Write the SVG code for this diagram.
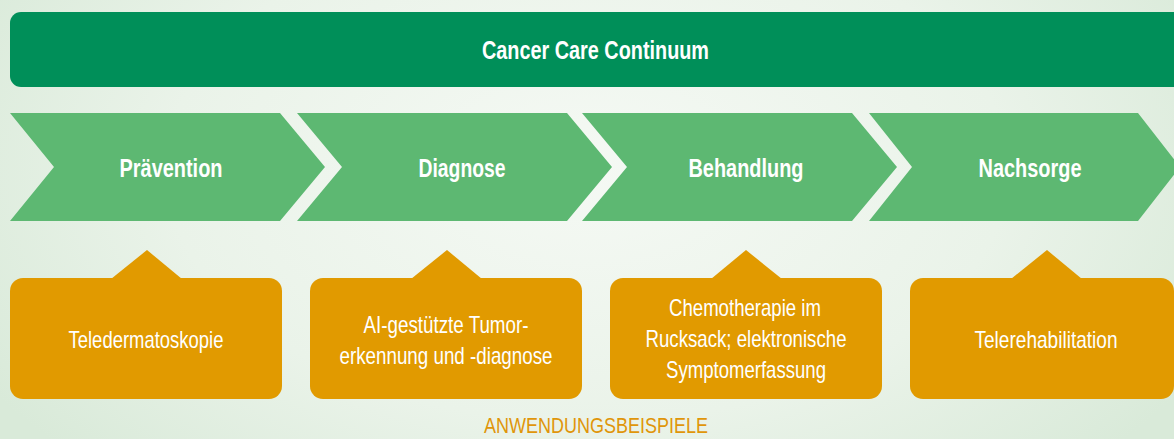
<svg xmlns="http://www.w3.org/2000/svg" width="1174" height="439" viewBox="0 0 1174 439">
  <defs>
    <radialGradient id="bg" cx="587" cy="170" r="700" gradientUnits="userSpaceOnUse" gradientTransform="translate(587 170) scale(1 0.6) translate(-587 -170)">
      <stop offset="0" stop-color="#f5f9f4"/>
      <stop offset="0.6" stop-color="#eaf3e9"/>
      <stop offset="1" stop-color="#d9ead9"/>
    </radialGradient>
    <style>
      .t { font-family: "Liberation Sans", Arial, sans-serif; text-anchor: middle; }
      .hdr { font-size: 25px; font-weight: bold; fill: #ffffff; }
      .box { fill: #e19a00; }
      .chev { fill: #5db872; }
      .btxt { font-size: 24px; fill: #ffffff; }
      .lbl { font-size: 22px; fill: #e0960a; }
    </style>
  </defs>
  <rect x="0" y="0" width="1174" height="439" fill="url(#bg)"/>

  <g id="banner">
    <rect x="10" y="12" width="1174" height="75" rx="11" fill="#008f59"/>
    <text class="t hdr" x="595.5" y="59" textLength="227" lengthAdjust="spacingAndGlyphs">Cancer Care Continuum</text>
  </g>

  <g id="praevention">
    <polygon class="chev" points="10,113 280,113 325,167 280,221 10,221 54,167"/>
    <text class="t hdr" x="171" y="177" textLength="103" lengthAdjust="spacingAndGlyphs">Prävention</text>
  </g>
  <g id="diagnose">
    <polygon class="chev" points="297,113 567,113 612,167 567,221 297,221 342,167"/>
    <text class="t hdr" x="462" y="177" textLength="87" lengthAdjust="spacingAndGlyphs">Diagnose</text>
  </g>
  <g id="behandlung">
    <polygon class="chev" points="582,113 852,113 897,167 852,221 582,221 627,167"/>
    <text class="t hdr" x="746" y="177" textLength="115" lengthAdjust="spacingAndGlyphs">Behandlung</text>
  </g>
  <g id="nachsorge">
    <polygon class="chev" points="869,113 1138,113 1180,167 1138,221 869,221 912,167"/>
    <text class="t hdr" x="1030" y="177" textLength="103" lengthAdjust="spacingAndGlyphs">Nachsorge</text>
  </g>

  <g id="connectors"></g>

  <g id="bsp-teledermatoskopie">
    <polygon class="box" points="111,279 147,250 182,279"/>
    <rect class="box" x="10" y="278" width="272" height="121" rx="13"/>
    <text class="t btxt" x="146" y="348" textLength="155" lengthAdjust="spacingAndGlyphs">Teledermatoskopie</text>
  </g>
  <g id="bsp-tumorerkennung">
    <polygon class="box" points="411,279 447,250 482,279"/>
    <rect class="box" x="310" y="278" width="272" height="121" rx="13"/>
    <text class="t btxt" x="446" y="333" textLength="165" lengthAdjust="spacingAndGlyphs">AI-gestützte Tumor-</text>
    <text class="t btxt" x="446" y="364" textLength="213" lengthAdjust="spacingAndGlyphs">erkennung und -diagnose</text>
  </g>
  <g id="bsp-chemotherapie">
    <polygon class="box" points="711,279 746,250 782,279"/>
    <rect class="box" x="610" y="278" width="272" height="121" rx="13"/>
    <text class="t btxt" x="745" y="316" textLength="152" lengthAdjust="spacingAndGlyphs">Chemotherapie im</text>
    <text class="t btxt" x="746" y="347" textLength="201" lengthAdjust="spacingAndGlyphs">Rucksack; elektronische</text>
    <text class="t btxt" x="746" y="378" textLength="160" lengthAdjust="spacingAndGlyphs">Symptomerfassung</text>
  </g>
  <g id="bsp-telerehabilitation">
    <polygon class="box" points="1011,279 1047,250 1082,279"/>
    <rect class="box" x="910" y="278" width="264" height="121" rx="13"/>
    <text class="t btxt" x="1046" y="348" textLength="143" lengthAdjust="spacingAndGlyphs">Telerehabilitation</text>
  </g>

  <text class="t lbl" x="596" y="433" textLength="224" lengthAdjust="spacingAndGlyphs">ANWENDUNGSBEISPIELE</text>
</svg>
